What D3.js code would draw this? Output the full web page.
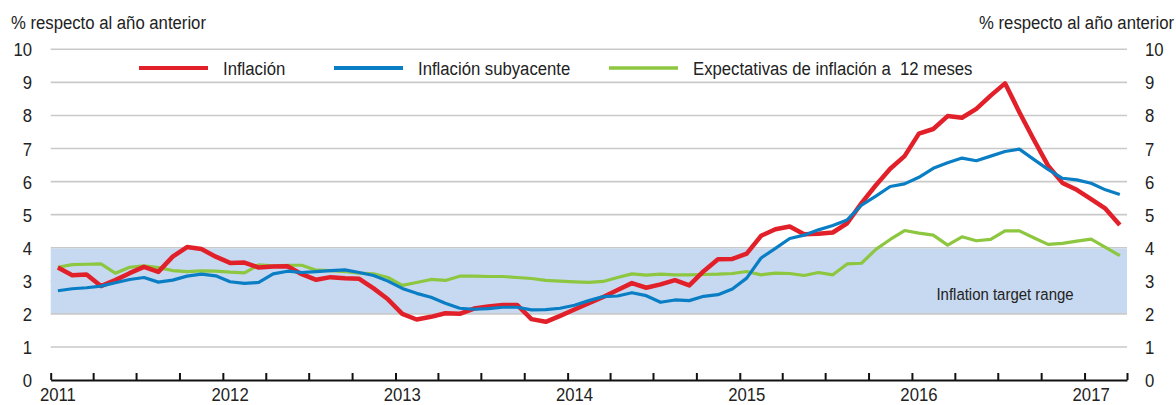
<!DOCTYPE html>
<html>
<head>
<meta charset="utf-8">
<script src="https://cdn.jsdelivr.net/npm/d3@7"></script>
<style>
  body { margin: 0; background: #fff; }
  svg text { font-family: "Liberation Sans Narrow", "Arial Narrow", "Liberation Sans", sans-serif; fill: #222; }
</style>
</head>
<body>
<svg id="chart" width="1176" height="405"></svg>
<script>
// monthly series, jan 2011 .. mar 2017 (75 months)
const inflacion = [
  3.40,3.17,3.19,2.84,3.02,3.23,3.42,3.27,3.73,4.02,3.96,3.73,
  3.54,3.55,3.40,3.43,3.44,3.20,3.03,3.11,3.08,3.06,2.77,2.44,
  2.00,1.83,1.91,2.02,2.00,2.16,2.22,2.27,2.27,1.84,1.76,1.94,
  2.13,2.32,2.51,2.72,2.93,2.79,2.89,3.02,2.86,3.29,3.65,3.66,
  3.82,4.36,4.56,4.64,4.41,4.42,4.46,4.74,5.35,5.89,6.39,6.77,
  7.45,7.59,7.98,7.93,8.20,8.60,8.97,8.10,7.27,6.48,5.96,5.75,
  5.47,5.18,4.69
];
const subyacente = [
  2.70,2.76,2.79,2.84,2.94,3.04,3.10,2.96,3.02,3.14,3.20,3.15,
  2.97,2.92,2.95,3.21,3.29,3.25,3.28,3.31,3.33,3.25,3.16,2.99,
  2.77,2.62,2.50,2.32,2.17,2.14,2.16,2.20,2.20,2.12,2.13,2.17,
  2.26,2.40,2.52,2.54,2.64,2.55,2.35,2.42,2.40,2.53,2.58,2.75,
  3.08,3.69,3.98,4.28,4.38,4.54,4.67,4.84,5.29,5.56,5.85,5.93,
  6.13,6.40,6.57,6.71,6.63,6.77,6.91,6.98,6.67,6.37,6.10,6.05,
  5.95,5.75,5.61
];
const expectativas = [
  3.41,3.49,3.50,3.51,3.23,3.41,3.45,3.40,3.31,3.28,3.30,3.29,
  3.26,3.24,3.48,3.45,3.47,3.47,3.32,3.31,3.28,3.23,3.21,3.10,
  2.86,2.95,3.04,3.01,3.14,3.14,3.13,3.13,3.10,3.07,3.01,2.99,
  2.97,2.95,2.98,3.10,3.21,3.17,3.20,3.18,3.18,3.19,3.20,3.22,
  3.28,3.18,3.23,3.22,3.16,3.25,3.18,3.51,3.53,3.95,4.25,4.52,
  4.44,4.38,4.08,4.33,4.21,4.25,4.51,4.51,4.30,4.10,4.13,4.20,
  4.26,4.01,3.76
];

const seriesNames = ["Inflación", "Inflación subyacente", "Expectativas de inflación a  12 meses"];
const seriesColors = ["#e2202a", "#0a7ec4", "#8dc63f"];
const yTicks = [0,1,2,3,4,5,6,7,8,9,10];
const targetRange = [2, 4];
const yearLabels = ["2011","2012","2013","2014","2015","2016","2017"];
const unitLabel = "% respecto al año anterior";
const rangeLabel = "Inflation target range";

const months = d3.timeMonth.range(new Date(2011, 0, 1), new Date(2017, 3, 1));

let svg = d3.select("#chart");

let plotLeft = 50.7, plotRight = 1127, plotTop = 49.3, plotBottom = 380;

// no narrow font here, so squeeze regular sans a bit
let squeeze = 0.88;
function addText(parent, x, yPos, str, size, anchor) {
  return parent.append("text")
    .attr("transform", "translate(" + x + "," + yPos + ") scale(" + squeeze + ",1)")
    .attr("font-size", size)
    .attr("text-anchor", anchor || "start")
    .style("white-space", "pre")
    .text(str);
}

let xBand = d3.scaleBand(months, [plotLeft, plotRight]).padding(0);
let xTime = d3.scaleTime([new Date(2011, 0, 1), new Date(2017, 3, 1)], [plotLeft, plotRight]);
let y = d3.scaleLinear([0, 10], [plotBottom, plotTop]);

// gridlines
svg.append("g")
  .selectAll("line")
  .data(yTicks.filter(d => d > 0))
  .join("line")
    .attr("x1", plotLeft).attr("x2", plotRight)
    .attr("y1", d => y(d)).attr("y2", d => y(d))
    .attr("stroke", "#c9c9c9")
    .attr("stroke-width", 1.6);

// target band
svg.append("rect")
  .attr("x", plotLeft)
  .attr("width", plotRight - plotLeft)
  .attr("y", y(targetRange[1]) + 0.8)
  .attr("height", y(targetRange[0]) - y(targetRange[1]) - 1.6)
  .attr("fill", "#c6d9f0");

addText(svg, 1005, 300, rangeLabel, 17, "middle");

// x axis, quarterly ticks pointing up
let xAxis = svg.append("g")
  .attr("transform", "translate(0," + plotBottom + ")")
  .call(d3.axisBottom(xTime)
    .ticks(d3.timeMonth.every(3))
    .tickSizeInner(-7)
    .tickSizeOuter(0)
    .tickFormat(""));
xAxis.select(".domain").attr("stroke", "#111").attr("stroke-width", 2);
xAxis.selectAll(".tick line").attr("stroke", "#111").attr("stroke-width", 2);

let yearG = svg.append("g");
yearLabels.forEach(d => {
  addText(yearG, xBand(new Date(+d, 0, 1)) + xBand.bandwidth() / 2, 401, d, 19, "middle");
});

// y labels both sides
let yLeft = svg.append("g");
let yRight = svg.append("g");
yTicks.forEach(d => {
  addText(yLeft, 32, y(d) + 7, String(d), 19, "end");
  addText(yRight, 1145, y(d) + 7, String(d), 19, "start");
});

addText(svg, 11, 29, unitLabel, 19, "start");
addText(svg, 1174, 29, unitLabel, 19, "end");

// lines
let allSeries = [inflacion, subyacente, expectativas];
let widths = [4.5, 3.2, 3.2];
let line = d3.line()
  .x((d, i) => xBand(months[i]) + xBand.bandwidth() / 2)
  .y(d => y(d));

// order: green, red, blue on top
[2, 0, 1].forEach(k => {
  svg.append("path")
    .datum(allSeries[k])
    .attr("fill", "none")
    .attr("stroke", seriesColors[k])
    .attr("stroke-width", widths[k])
    .attr("stroke-linejoin", "round")
    .attr("d", line);
});

// legend
let legendX = [139, 334, 609];
let legend = svg.append("g");
seriesNames.forEach((name, k) => {
  legend.append("line")
    .attr("x1", legendX[k]).attr("x2", legendX[k] + 69)
    .attr("y1", 68).attr("y2", 68)
    .attr("stroke", seriesColors[k])
    .attr("stroke-width", k == 2 ? 3.5 : 4.2);
  addText(legend, legendX[k] + 84, 75, name, 19, "start");
});
</script>
</body>
</html>
